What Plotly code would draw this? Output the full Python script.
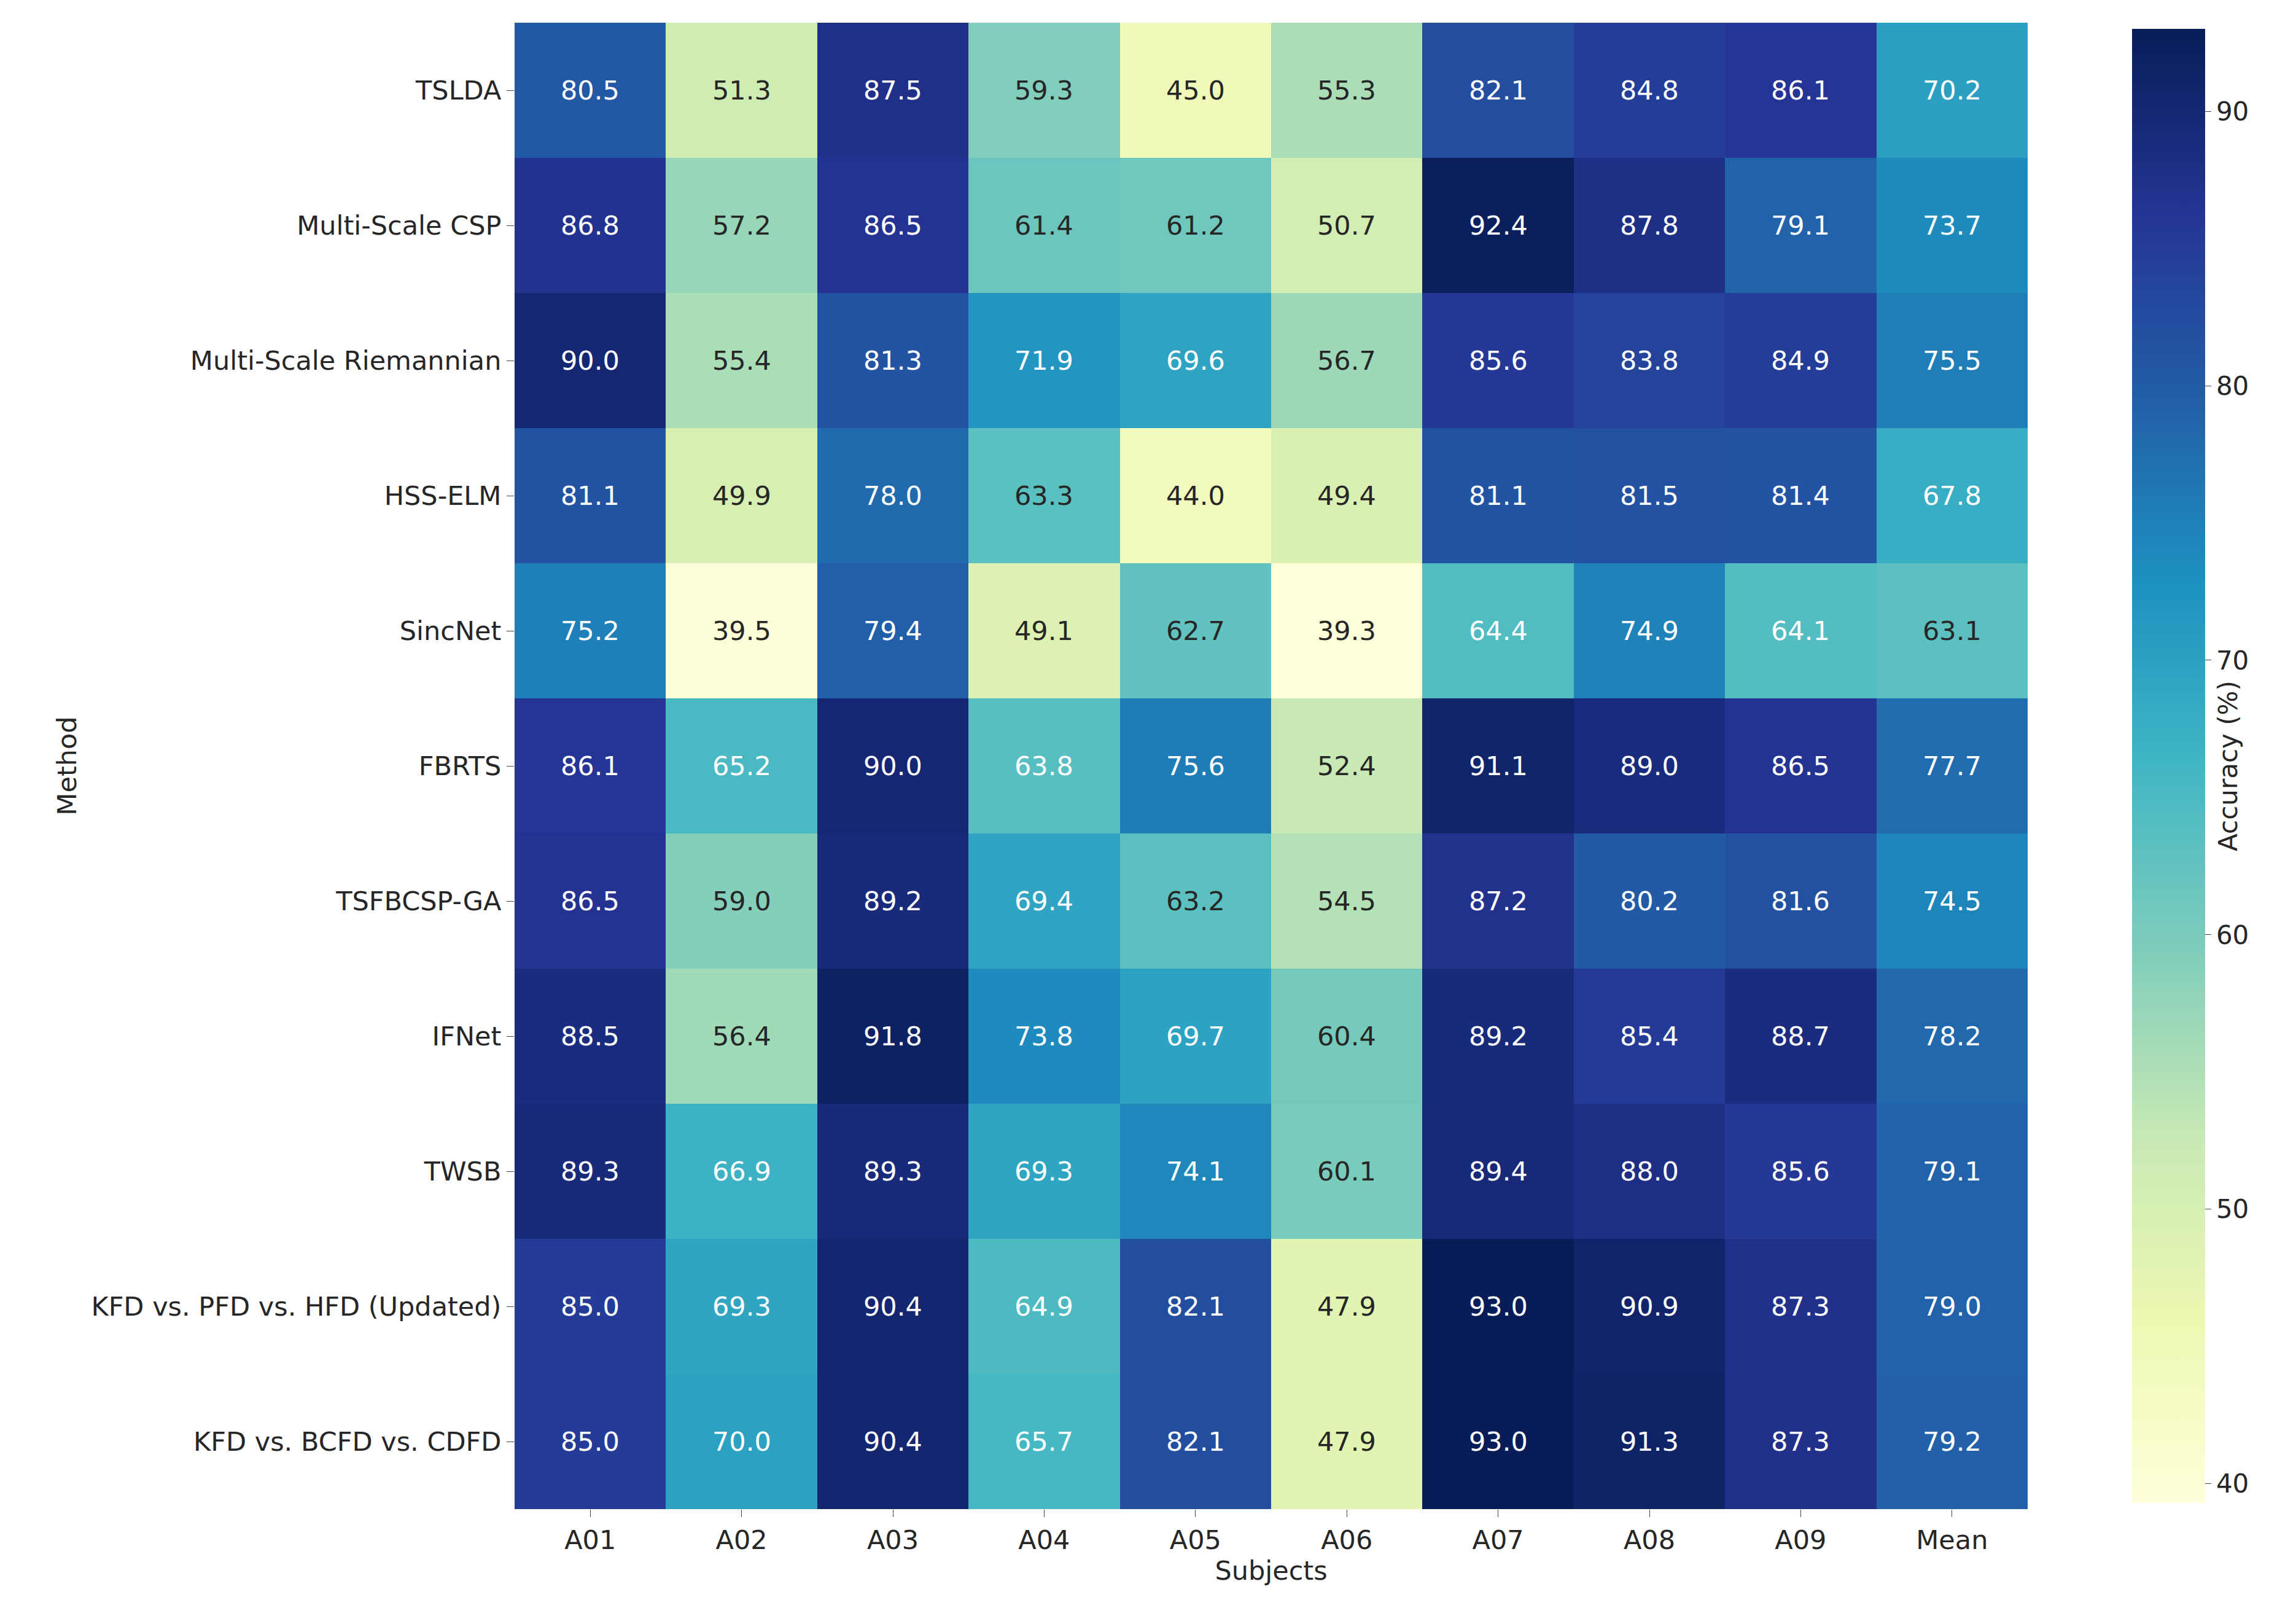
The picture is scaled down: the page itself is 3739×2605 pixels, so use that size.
import plotly.graph_objects as go

methods = ['TSLDA', 'Multi-Scale CSP', 'Multi-Scale Riemannian', 'HSS-ELM', 'SincNet', 'FBRTS',
           'TSFBCSP-GA', 'IFNet', 'TWSB', 'KFD vs. PFD vs. HFD (Updated)', 'KFD vs. BCFD vs. CDFD']
subjects = ['A01', 'A02', 'A03', 'A04', 'A05', 'A06', 'A07', 'A08', 'A09', 'Mean']
acc = [
    [80.5, 51.3, 87.5, 59.3, 45.0, 55.3, 82.1, 84.8, 86.1, 70.2],
    [86.8, 57.2, 86.5, 61.4, 61.2, 50.7, 92.4, 87.8, 79.1, 73.7],
    [90.0, 55.4, 81.3, 71.9, 69.6, 56.7, 85.6, 83.8, 84.9, 75.5],
    [81.1, 49.9, 78.0, 63.3, 44.0, 49.4, 81.1, 81.5, 81.4, 67.8],
    [75.2, 39.5, 79.4, 49.1, 62.7, 39.3, 64.4, 74.9, 64.1, 63.1],
    [86.1, 65.2, 90.0, 63.8, 75.6, 52.4, 91.1, 89.0, 86.5, 77.7],
    [86.5, 59.0, 89.2, 69.4, 63.2, 54.5, 87.2, 80.2, 81.6, 74.5],
    [88.5, 56.4, 91.8, 73.8, 69.7, 60.4, 89.2, 85.4, 88.7, 78.2],
    [89.3, 66.9, 89.3, 69.3, 74.1, 60.1, 89.4, 88.0, 85.6, 79.1],
    [85.0, 69.3, 90.4, 64.9, 82.1, 47.9, 93.0, 90.9, 87.3, 79.0],
    [85.0, 70.0, 90.4, 65.7, 82.1, 47.9, 93.0, 91.3, 87.3, 79.2],
]

ylgnbu = [[0.0, '#ffffd9'], [0.125, '#edf8b1'], [0.25, '#c7e9b4'], [0.375, '#7fcdbb'],
          [0.5, '#41b6c4'], [0.625, '#1d91c0'], [0.75, '#225ea8'], [0.875, '#253494'], [1.0, '#081d58']]

fig = go.Figure(go.Heatmap(
    z=acc, x=subjects, y=methods, colorscale=ylgnbu, zmin=39.3, zmax=93.0,
    xgap=0, ygap=0,
    colorbar=dict(title=dict(text='Accuracy (%)', side='right', font=dict(size=42)),
                  tickvals=[40, 50, 60, 70, 80, 90], tickfont=dict(size=42),
                  ticks='outside', ticklen=10, x=1.065, xanchor='left', thickness=119,
                  len=1, y=0.5, yanchor='middle', outlinewidth=0),
))

for i, row in enumerate(acc):
    for j, v in enumerate(row):
        fig.add_annotation(x=subjects[j], y=methods[i], text='%.1f' % v, showarrow=False,
                           font=dict(size=43, color='white' if v >= 63.5 else '#262626'))

fig.update_layout(
    width=3739, height=2605,
    margin=dict(l=830, r=445, t=29, b=156),
    font=dict(family='DejaVu Sans', color='#262626'),
    plot_bgcolor='white', paper_bgcolor='white',
    xaxis=dict(title=dict(text='Subjects', font=dict(size=43), standoff=10), tickfont=dict(size=43),
               ticks='outside', ticklen=12, showgrid=False),
    yaxis=dict(title=dict(text='Method', font=dict(size=43), standoff=10), tickfont=dict(size=43),
               ticks='outside', ticklen=12, autorange='reversed', showgrid=False),
)

fig.write_html('out.html')
